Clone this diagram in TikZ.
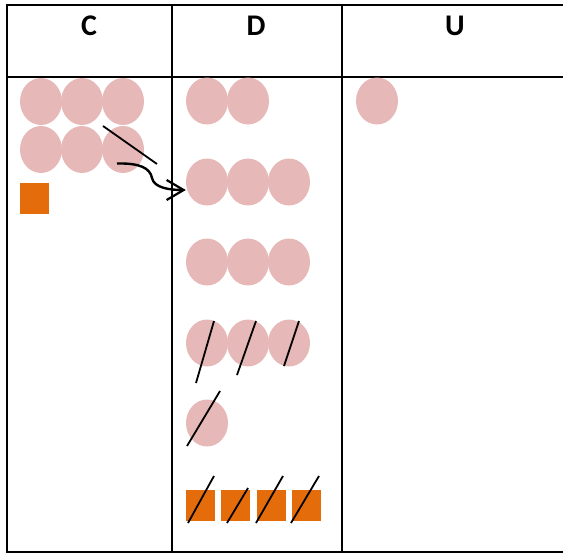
\documentclass[tikz,border=0pt]{standalone}
\usepackage{fontspec}
\setmainfont{Carlito}
\usetikzlibrary{
    positioning,                      % right=of, etc.
    arrows.meta,                      % puntas de flecha
    shapes.geometric,                 % ellipse
    calc                              % aritmetica de coordenadas
}
\definecolor{pink_fill}{RGB}{230,184,183}
\definecolor{orange_fill}{RGB}{228,108,10}
\tikzset{
    grid/.style={
        line width=2.2pt
    },
    header/.style={
        font=\bfseries\fontsize{30}{30}\selectfont, inner sep=0pt
    },
    ball/.style={
        ellipse, fill=pink_fill, inner sep=0pt,
        minimum width=42pt, minimum height=47pt
    },
    cube/.style={
        rectangle, fill=orange_fill, inner sep=0pt,
        minimum width=29pt, minimum height=31pt
    },
    slash/.style={
        line width=1.8pt
    },
    arrow/.style={
        -{Straight Barb[length=17pt, width=20pt, line width=2.2pt]}, line width=2.4pt
    }
}

\begin{document}
\begin{tikzpicture}[x=1pt, y=-1pt]
    \useasboundingbox (0,0) rectangle (563,554);

    % --- Tabla ---
    \draw[grid] (563,5) -- (7,5) -- (7,552) -- (563,552);
    \draw[grid] (7,77) -- (563,77);
    \draw[grid] (172,5) -- (172,552);
    \draw[grid] (342,5) -- (342,552);

    \node[header] (hc) at (89,26) {C};
    \node[header] (hd) at (256,26) {D};
    \node[header] (hu) at (455,26) {U};

    % --- Columna C ---
    \node[ball] (c11) at (41,101.5) {};
    \node[ball] (c12) at (82,101.5) {};
    \node[ball] (c13) at (123,101.5) {};
    \node[ball] (c21) at (41,149.5) {};
    \node[ball] (c22) at (82,149.5) {};
    \node[ball] (c23) at (123,149.5) {};
    \node[cube] (c31) at (34.5,198.5) {};

    % --- Columna D ---
    \node[ball] (d11) at (207,101) {};
    \node[ball] (d12) at (248,101) {};
    \foreach \row/\y in {2/182, 3/262, 4/343}{
        \node[ball] (d\row1) at (207,\y) {};
        \node[ball] (d\row2) at (248,\y) {};
        \node[ball] (d\row3) at (289,\y) {};
    }
    \node[ball] (d51) at (207,423) {};
    \node[cube] (d61) at (200.5,505.5) {};
    \node[cube] (d62) at (235.5,505.5) {};
    \node[cube] (d63) at (271.5,505.5) {};
    \node[cube] (d64) at (306.5,505.5) {};

    % --- Columna U ---
    \node[ball] (u11) at (377,101) {};

    % --- Marcas ---
    \draw[slash] ($(c23)+(-20,-23.5)$) -- ($(c23)+(34,14.5)$);
    \draw[slash] ($(d41)+(7,-22)$) -- ($(d41)+(-11,40)$);
    \draw[slash] ($(d42)+(8,-22)$) -- ($(d42)+(-11,32)$);
    \draw[slash] ($(d43)+(10,-22)$) -- ($(d43)+(-5,23)$);
    \draw[slash] ($(d51)+(13,-32)$) -- ($(d51)+(-20,23)$);
    \draw[slash] ($(d61)+(13.5,-29.5)$) -- ($(d61)+(-12.5,17.5)$);
    \draw[slash] ($(d62)+(12.5,-17.5)$) -- ($(d62)+(-8.5,17.5)$);
    \draw[slash] ($(d63)+(11.5,-29.5)$) -- ($(d63)+(-15.5,17.5)$);
    \draw[slash] ($(d64)+(12.5,-29.5)$) -- ($(d64)+(-15.5,17.5)$);

    % --- Flecha ---
    \coordinate (tip) at ($(d21.west)+(0,8)$);
    \draw[arrow] ($(c23)+(-6,14)$) .. controls (140,163) and (150,168) .. (152,178)
        .. controls (154,188) and (170,190) .. (tip);

\end{tikzpicture}
\end{document}
